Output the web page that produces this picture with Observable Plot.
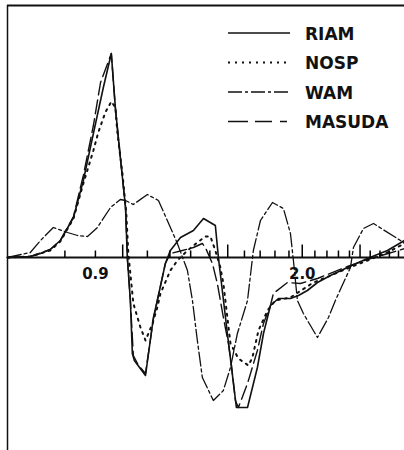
<!DOCTYPE html>
<html>
<head>
<meta charset="utf-8">
<script src="https://cdn.jsdelivr.net/npm/d3@7"></script>
<script src="https://cdn.jsdelivr.net/npm/@observablehq/plot@0.6"></script>
<style>
  html, body { margin: 0; padding: 0; background: #fff; }
  #wrap { position: relative; width: 404px; height: 450px; overflow: hidden; }
  #legend { position: absolute; left: 0; top: 0; pointer-events: none; }
  #legend text { font-family: "DejaVu Sans", sans-serif; font-weight: bold; font-size: 17px; fill: #111; }
</style>
</head>
<body>
<div id="wrap"></div>
<script>
// ---- data (frequency, relative amplitude) ----
const riamFreq = [0.641,0.700,0.728,0.756,0.786,0.827,0.859,0.893,0.928,0.957,0.972,0.991,1.011,1.018,1.030,1.038,1.046,1.092,1.126,1.143,1.179,1.202,1.250,1.314,1.366,1.430,1.447,1.498,1.551,1.619,1.682,1.722,1.769,1.824,1.911,1.971,2.040,2.121,2.230,2.381,2.572,2.779,2.968];
const riamAmp  = [0,0.005,0.02,0.04,0.085,0.20,0.385,0.62,0.85,1.02,0.75,0.50,0.25,0,-0.215,-0.48,-0.515,-0.59,-0.30,-0.215,-0.03,0.035,0.10,0.135,0.195,0.16,0,-0.38,-0.75,-0.75,-0.55,-0.38,-0.24,-0.205,-0.205,-0.19,-0.165,-0.125,-0.09,-0.05,-0.005,0.035,0.085];

const nospFreq = [0.641,0.700,0.756,0.786,0.827,0.859,0.893,0.910,0.935,0.957,0.972,0.980,0.999,1.014,1.022,1.042,1.071,1.092,1.122,1.143,1.157,1.202,1.235,1.284,1.334,1.376,1.403,1.430,1.458,1.475,1.498,1.516,1.563,1.625,1.650,1.689,1.749,1.803,1.911,2.088,2.171,2.381,2.572,2.779,2.968];
const nospAmp  = [0,0.005,0.035,0.08,0.195,0.37,0.535,0.625,0.725,0.78,0.75,0.62,0.42,0.22,0.02,-0.23,-0.35,-0.415,-0.33,-0.25,-0.18,-0.065,-0.015,0.035,0.075,0.105,0.105,0.035,-0.05,-0.13,-0.30,-0.43,-0.505,-0.54,-0.50,-0.365,-0.265,-0.215,-0.20,-0.125,-0.105,-0.055,-0.015,0.025,0.07];

const wamFreq = [0.641,0.700,0.728,0.765,0.808,0.840,0.873,0.907,0.954,0.991,1.011,1.042,1.100,1.148,1.188,1.235,1.284,1.309,1.334,1.360,1.419,1.475,1.516,1.557,1.619,1.656,1.702,1.783,1.860,1.911,1.933,1.963,2.009,2.121,2.213,2.273,2.409,2.437,2.533,2.633,2.922,2.968];
const wamAmp  = [0,0.025,0.085,0.15,0.125,0.11,0.105,0.15,0.25,0.29,0.285,0.265,0.315,0.285,0.185,0.07,-0.065,-0.215,-0.415,-0.60,-0.715,-0.665,-0.55,-0.38,-0.215,0.035,0.185,0.275,0.245,0.12,-0.015,-0.215,-0.28,-0.40,-0.30,-0.215,-0.05,0.05,0.145,0.17,0.085,0.07];

const masudaFreq = [0.641,0.700,0.756,0.786,0.827,0.859,0.893,0.918,0.957,0.972,0.991,1.011,1.018,1.030,1.042,1.063,1.092,1.126,1.143,1.179,1.202,1.259,1.314,1.360,1.376,1.414,1.441,1.475,1.504,1.522,1.545,1.563,1.619,1.682,1.722,1.769,1.789,1.889,1.986,2.121,2.381,2.572,2.900,2.968];
const masudaAmp  = [0,0.005,0.04,0.085,0.205,0.41,0.66,0.875,1.02,0.75,0.50,0.25,0,-0.215,-0.49,-0.54,-0.58,-0.305,-0.215,-0.03,0.02,0.035,0.05,0.07,0.05,-0.03,-0.13,-0.30,-0.43,-0.54,-0.715,-0.75,-0.63,-0.465,-0.33,-0.24,-0.18,-0.125,-0.13,-0.105,-0.045,-0.01,0.035,0.045];

const seriesNames = ["RIAM", "NOSP", "WAM", "MASUDA"];

// axis description
const xDomain = [0.641, 2.968];
const yDomain = [-0.965, 1.26];
const minorTicks = [0.8,0.9,1.1,1.2,1.3,1.4,1.6,1.7,1.8,1.9,2.1,2.2,2.3,2.4,2.6,2.7,2.8,2.9];
const majorTicks = [1.0,1.5,2.0,2.5];
const tickLabelValues = [0.9, 2.0];
const tickLabels = ["0.9", "2.0"];

// ---- layout ----
const W = 404, H = 450, mTop = 5, mBottom = 0, mLeft = 7, mRight = 0;
const pxPerUnit = (H - mTop - mBottom) / (yDomain[1] - yDomain[0]);
const minorLen = 7 / pxPerUnit, majorLen = 13 / pxPerUnit;

// ---- build tables ----
const toRows = (fs, vs) => fs.map((f, i) => ({f, v: vs[i]}));
const riam = toRows(riamFreq, riamAmp);
const nosp = toRows(nospFreq, nospAmp);
const wam = toRows(wamFreq, wamAmp);
const masuda = toRows(masudaFreq, masudaAmp);
const labelRows = tickLabelValues.map((f, i) => ({f, t: tickLabels[i]}));
const tickRows = [
  ...minorTicks.map(f => ({f, len: minorLen})),
  ...majorTicks.map(f => ({f, len: majorLen}))
];

const ink = "#111";
const styles = {
  RIAM:   {strokeWidth: 1.6},
  NOSP:   {strokeWidth: 2, strokeDasharray: "2,5"},
  WAM:    {strokeWidth: 1.3, strokeDasharray: "14,3,3,3"},
  MASUDA: {strokeWidth: 1.4, strokeDasharray: "14,5"}
};

const chart = Plot.plot({
  width: W,
  height: H,
  marginLeft: mLeft,
  marginRight: mRight,
  marginTop: mTop,
  marginBottom: mBottom,
  x: {type: "log", domain: xDomain, axis: null},
  y: {domain: yDomain, axis: null},
  style: {background: "#fff"},
  marks: [
    Plot.ruleY([yDomain[1]], {stroke: ink, strokeWidth: 2}),
    Plot.ruleX([xDomain[0]], {stroke: ink, strokeWidth: 1.5}),
    Plot.ruleY([0], {stroke: ink, strokeWidth: 2}),
    Plot.line(wam, {x: "f", y: "v", stroke: ink, ...styles.WAM}),
    Plot.line(masuda, {x: "f", y: "v", stroke: ink, ...styles.MASUDA}),
    Plot.line(nosp, {x: "f", y: "v", stroke: ink, ...styles.NOSP}),
    Plot.line(riam, {x: "f", y: "v", stroke: ink, ...styles.RIAM}),
    Plot.link(tickRows, {x1: "f", x2: "f", y1: () => 0, y2: "len", stroke: "#000", strokeWidth: 1.5}),
    Plot.text(labelRows, {x: "f", y: () => 0, text: "t", dy: 17, fontFamily: "DejaVu Sans", fontWeight: "bold", fontSize: 15, fill: ink})
  ]
});

const wrap = document.getElementById("wrap");
wrap.appendChild(chart);

// ---- legend (key drawn over the top-right of the plot area) ----
const leg = d3.select(wrap).append("svg")
  .attr("id", "legend").attr("width", W).attr("height", H);
const rowY0 = 33, rowStep = 29.5;
seriesNames.forEach((name, i) => {
  const yy = rowY0 + i * rowStep;
  const s = styles[name];
  leg.append("line")
    .attr("x1", 228).attr("x2", 290).attr("y1", yy).attr("y2", yy)
    .attr("stroke", ink).attr("stroke-width", s.strokeWidth)
    .attr("stroke-dasharray", name === "MASUDA" ? "20,7,17,8,7" : (s.strokeDasharray || null));
  leg.append("text").attr("x", 305).attr("y", yy + 6.5).text(name);
});
</script>
</body>
</html>
